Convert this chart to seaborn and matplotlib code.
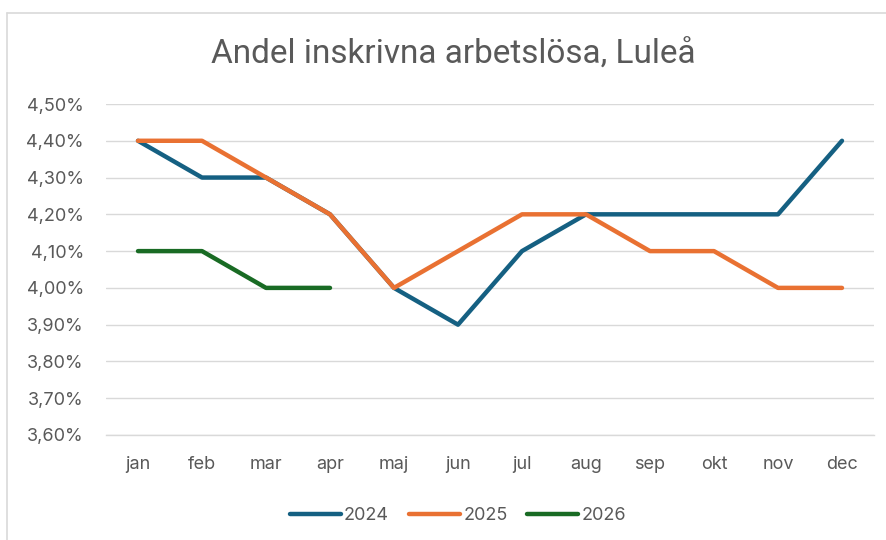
import matplotlib
matplotlib.use("Agg")
import matplotlib.pyplot as plt
import seaborn as sns
import pandas as pd
from matplotlib.lines import Line2D
from matplotlib.ticker import FuncFormatter

months = ["jan", "feb", "mar", "apr", "maj", "jun", "jul", "aug", "sep", "okt", "nov", "dec"]
v2024 = [4.4, 4.3, 4.3, 4.2, 4.0, 3.9, 4.1, 4.2, 4.2, 4.2, 4.2, 4.4]
v2025 = [4.4, 4.4, 4.3, 4.2, 4.0, 4.1, 4.2, 4.2, 4.1, 4.1, 4.0, 4.0]
v2026 = [4.1, 4.1, 4.0, 4.0]
years = ["2024", "2025", "2026"]
colors = ["#156082", "#E97132", "#196B24"]
title = "Andel inskrivna arbetslösa, Luleå"

rows = []
for y, vals in zip(years, [v2024, v2025, v2026]):
    for i, v in enumerate(vals):
        rows.append({"month": months[i], "pos": i, "value": v, "year": y})
df = pd.DataFrame(rows)

sns.set_theme(style="white")
plt.rcParams["font.family"] = ["Inter", "DejaVu Sans"]

fig = plt.figure(figsize=(8.87, 5.4), dpi=100)
ax = fig.add_axes([106/887, 1-435/540, (874-106)/887, (435-104)/540])

sns.lineplot(data=df, x="pos", y="value", hue="year", palette=dict(zip(years, colors)),
             linewidth=3.2, ax=ax, sort=False, legend=False,
             solid_capstyle="round", solid_joinstyle="round")

ax.set_xlim(-0.5, 11.5)
ax.set_ylim(3.6, 4.5)
ax.set_xticks(range(12))
ax.set_xticklabels(months)
ax.set_yticks([3.6 + 0.1*i for i in range(10)])
ax.yaxis.set_major_formatter(FuncFormatter(lambda v, p: f"{v:.2f}%".replace(".", ",")))
ax.grid(axis="y", color="#D9D9D9", linewidth=1)
ax.set_axisbelow(True)
for s in ["top", "right", "left"]:
    ax.spines[s].set_visible(False)
ax.spines["bottom"].set_color("#D9D9D9")
ax.spines["bottom"].set_linewidth(1)
ax.tick_params(axis="both", length=0, labelsize=13, labelcolor="#595959")
ax.tick_params(axis="x", pad=15)
ax.tick_params(axis="y", pad=16)
ax.set_xlabel("")
ax.set_ylabel("")

fig.text(453/887, 1-55/540, title, ha="center", va="center", fontsize=24,
         color="#595959", family=["Roboto", "DejaVu Sans"])

handles = [Line2D([0], [0], color=c, linewidth=3.2, solid_capstyle="round") for c in colors]
fig.legend(handles, years, loc="center", bbox_to_anchor=(458/887, 1-516/540), ncol=3,
           frameon=False, fontsize=13, labelcolor="#595959", handlelength=2.8,
           handletextpad=0.2, columnspacing=1.1)

fig.add_artist(Line2D([7.5/887, 1], [1-12.5/540, 1-12.5/540], color="#D9D9D9", linewidth=1.2))
fig.add_artist(Line2D([7.5/887, 7.5/887], [0, 1-12.5/540], color="#D9D9D9", linewidth=1.2))

fig.savefig("out.png", dpi=100, facecolor="white")
